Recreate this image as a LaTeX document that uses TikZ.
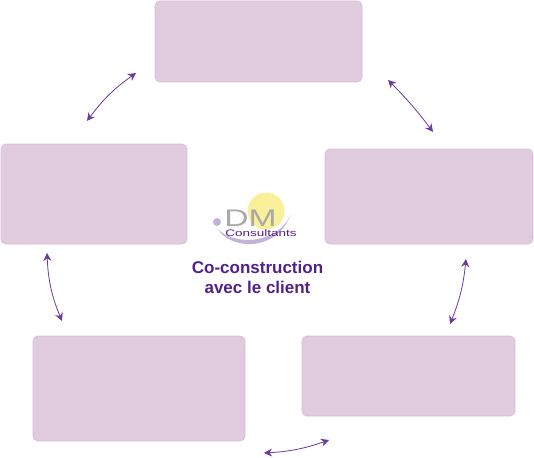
\documentclass[tikz,border=0pt]{standalone}
\usepackage{fontspec}
\setmainfont{Liberation Sans}
\usetikzlibrary{arrows.meta}
\definecolor{boxfill}{HTML}{E1CBDF}
\definecolor{boxline}{HTML}{D6BEDC}
\definecolor{arrowc}{HTML}{6A3A9C}
\definecolor{titlec}{HTML}{53208A}
\definecolor{sunc}{HTML}{FBF09A}
\definecolor{dmgray}{HTML}{A9A9A9}
\definecolor{swoosh}{HTML}{C3B2D8}
\tikzset{
  x=1pt,y=-1pt,
  card/.style={draw=boxline,line width=0.8pt,fill=boxfill,rounded corners=5pt},
  link/.style={draw=arrowc,line width=0.8pt,{Stealth[length=8pt,width=8pt]}-{Stealth[length=8pt,width=8pt]}},
  title/.style={text=titlec,font=\bfseries\fontsize{17}{20}\selectfont,align=center,inner sep=0pt}
}
\begin{document}
\begin{tikzpicture}
\useasboundingbox (0,0) rectangle (534,457);
\path[card] (155,1) rectangle (362,82);
\path[card] (325,149) rectangle (533,244);
\path[card] (1,144) rectangle (187,244);
\path[card] (33,336) rectangle (245,441);
\path[card] (302,336) rectangle (515,416);
% connectors
\coordinate (a1) at (87,121); \coordinate (a2) at (136,73);
\coordinate (b1) at (388,80); \coordinate (b2) at (433,132);
\coordinate (c1) at (466,259); \coordinate (c2) at (450,324);
\coordinate (d1) at (329,440); \coordinate (d2) at (264,453);
\coordinate (e1) at (62,321); \coordinate (e2) at (47,253);
\draw[link] (a1) to[bend left=9] (a2);
\draw[link] (b1) to[bend left=4] (b2);
\draw[link] (c1) to[bend left=8] (c2);
\draw[link] (d1) to[bend left=8] (d2);
\draw[link] (e1) to[bend left=10] (e2);
% logo
\fill[sunc] (266,211) circle (18.5);
\fill[swoosh] (217,222) circle (4);
\fill[swoosh] (218,229) .. controls (228,248) and (275,255) .. (291,214) .. controls (277,246) and (232,245) .. (218,229) -- cycle;
\node[inner sep=0pt,text=dmgray,font=\fontsize{24}{24}\selectfont,anchor=base,xscale=1.4] (dm) at (250.5,226.5) {DM};
\node[inner sep=0pt,text=titlec,font=\fontsize{9.5}{9.5}\selectfont,anchor=base,xscale=1.42] (cons) at (261,236) {Consultants};
\node[title] (t1) at (257.5,267) {Co-construction};
\node[title] (t2) at (257.5,287) {avec le client};
\end{tikzpicture}
\end{document}
